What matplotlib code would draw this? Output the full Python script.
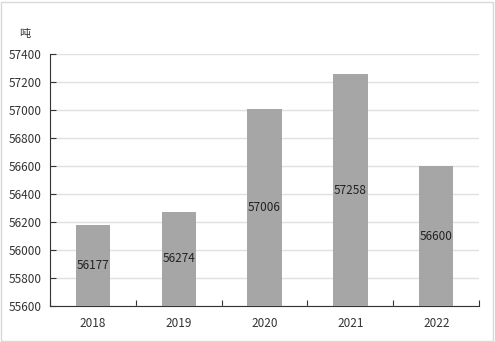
import matplotlib.pyplot as plt
from matplotlib.patches import Rectangle

plt.rcParams['font.family'] = ['Noto Sans CJK SC', 'DejaVu Sans']

years = ['2018', '2019', '2020', '2021', '2022']
tons = [56177, 56274, 57006, 57258, 56600]
y_ticks = list(range(55600, 57401, 200))
base = 55600

fig = plt.figure(figsize=(4.95, 3.42), dpi=100)
ax = fig.add_axes([0.101, 0.105, 0.867, 0.737])

x = list(range(len(years)))
ax.bar(x, [t - base for t in tons], bottom=base, width=0.4, color='#a6a6a6', zorder=3)
for xi, t in zip(x, tons):
    ax.text(xi, (base + t) / 2, str(t), ha='center', va='center', fontsize=8.5, color='#222222', zorder=4)

ax.set_xlim(-0.5, len(years) - 0.5)
ax.set_ylim(55600, 57400)
ax.set_yticks(y_ticks)
ax.set_yticklabels([str(v) for v in y_ticks], fontsize=8.5, color='#333333')
ax.yaxis.grid(True, color='#e0e0e0', linewidth=1, zorder=0)

# categories labelled at bar centres, ticks at the boundaries
ax.set_xticks([i + 0.5 for i in range(-1, len(years))])
ax.set_xticklabels([])
ax.set_xticks(x, minor=True)
ax.set_xticklabels(years, minor=True, fontsize=8.5, color='#333333')
ax.tick_params(axis='x', which='major', direction='in', length=4, color='#333333')
ax.tick_params(axis='x', which='minor', length=0, pad=8)
ax.tick_params(axis='y', direction='in', length=4, color='#333333', pad=6)

for s in ['top', 'right']:
    ax.spines[s].set_visible(False)
ax.spines['left'].set_color('#333333')
ax.spines['bottom'].set_color('#333333')

fig.text(25 / 495, 1 - 34 / 342, '吨', fontsize=8, ha='center', va='center', color='#333333')
fig.patches.append(Rectangle((0.002, 0.003), 0.994, 0.992, transform=fig.transFigure,
                             fill=False, edgecolor='#d9d9d9', linewidth=1))

fig.savefig('out.png', dpi=100)
